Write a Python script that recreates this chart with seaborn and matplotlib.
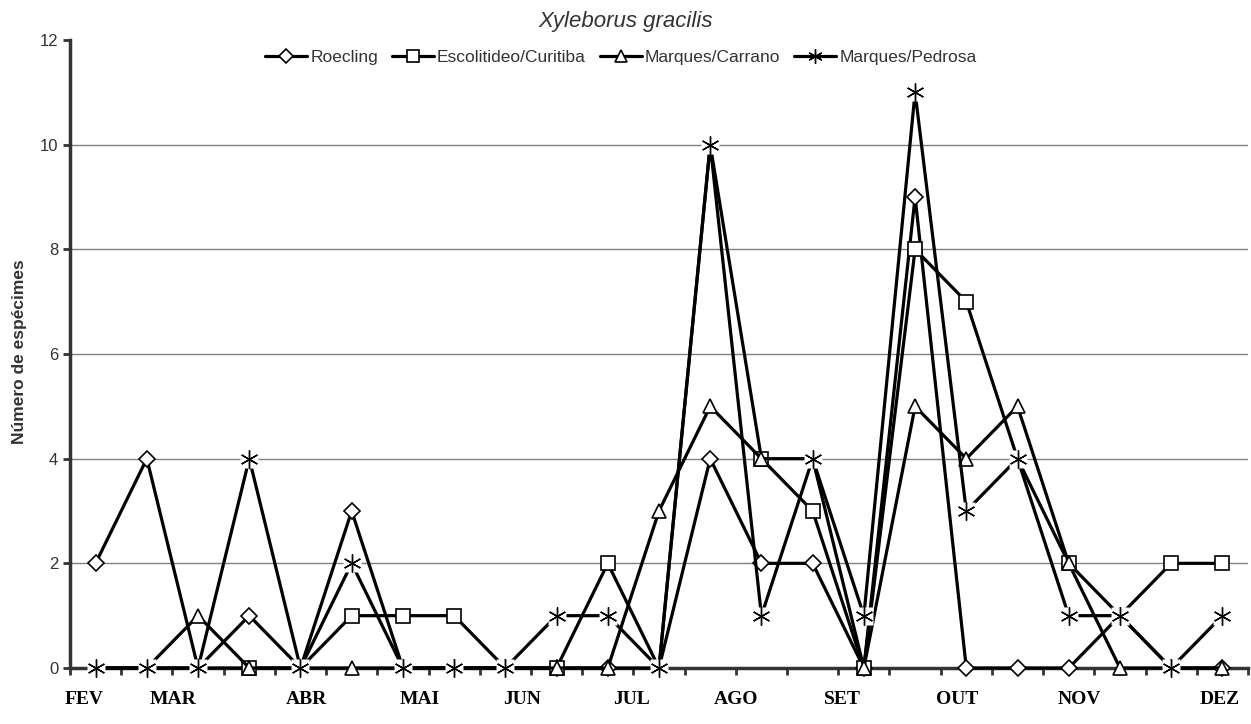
import pandas as pd
import seaborn as sns
import matplotlib.pyplot as plt
from matplotlib.lines import Line2D
import numpy as np

# Data (23 collection points, FEV..DEZ)
points = list(range(23))
roecling = [2, 4, 0, 1, 0, 3, 0, 0, 0, 0, 0, 0, 4, 2, 2, 0, 9, 0, 0, 0, 1, 0, 0]
escolitideo = [0, 0, 0, 0, 0, 1, 1, 1, 0, 0, 2, 0, 10, 4, 3, 0, 8, 7, 4, 2, 1, 2, 2]
carrano = [0, 0, 1, 0, 0, 0, 0, 0, 0, 0, 0, 3, 5, 4, 4, 0, 5, 4, 5, 2, 0, 0, 0]
pedrosa = [0, 0, 0, 4, 0, 2, 0, 0, 0, 1, 1, 0, 10, 1, 4, 1, 11, 3, 4, 1, 1, 0, 1]

series_names = ['Roecling', 'Escolitideo/Curitiba', 'Marques/Carrano', 'Marques/Pedrosa']
months = ['FEV', 'MAR', 'ABR', 'MAI', 'JUN', 'JUL', 'AGO', 'SET', 'OUT', 'NOV', 'DEZ']
month_pos = [-0.23, 1.52, 4.12, 6.33, 8.32, 10.47, 12.5, 14.59, 16.82, 19.2, 21.95]

df = pd.DataFrame({
    'ponto': points * 4,
    'valor': roecling + escolitideo + carrano + pedrosa,
    'serie': np.repeat(series_names, len(points)),
})

sns.set_style('white')
plt.rcParams['font.family'] = ['Liberation Sans', 'DejaVu Sans']

fig = plt.figure(figsize=(12.51, 7.24), dpi=100)
ax = fig.add_axes([70 / 1251, 56 / 724, 1178 / 1251, 628 / 724])

# marker, size, edge width per series
styles = {
    'Roecling': ('D', 8.5, 1.2),
    'Escolitideo/Curitiba': ('s', 10, 1.2),
    'Marques/Carrano': ('^', 10, 1.2),
    'Marques/Pedrosa': ((6, 2, 0), 13, 1.0),
}
handles = []
for i, name in enumerate(series_names):
    mk, ms, mew = styles[name]
    sub = df[df['serie'] == name]
    z = 3 + i
    if name == 'Marques/Pedrosa':
        # line first, then a white box and the asterisk on top (gap like the original)
        sns.lineplot(data=sub, x='ponto', y='valor', color='black', lw=2.3,
                     ax=ax, clip_on=False, zorder=z, legend=False)
        ax.plot(sub['ponto'], sub['valor'], ls='none', marker='s', ms=12.5,
                mfc='white', mec='none', zorder=z + 0.3, clip_on=False)
        ax.plot(sub['ponto'], sub['valor'], ls='none', marker=mk, ms=ms,
                mec='black', mew=mew, zorder=z + 0.6, clip_on=False)
    else:
        sns.lineplot(data=sub, x='ponto', y='valor', color='black', marker=mk, ms=ms,
                     lw=2.3, mfc='white', mec='black', mew=mew,
                     ax=ax, clip_on=False, zorder=z, legend=False)
    handles.append(Line2D([], [], color='black', lw=2.3, marker=mk, ms=ms * 0.8,
                          mfc='white', mec='black', mew=mew))

ax.set_xlim(-0.5, 22.5)
ax.set_ylim(0, 12)
ax.set_xticks(np.arange(-0.5, 23, 1))
ax.set_xticklabels([])
ax.set_yticks(range(0, 13, 2))
ax.tick_params(axis='both', direction='out', length=5, width=2, color='#333333',
               labelsize=12, labelcolor='#333333', left=True, bottom=True)
ax.yaxis.grid(True, color='#808080', lw=1)
ax.get_ygridlines()[-1].set_visible(False)
ax.set_axisbelow(True)
for s in ['top', 'right']:
    ax.spines[s].set_visible(False)
for s in ['left', 'bottom']:
    ax.spines[s].set_color('#333333')
    ax.spines[s].set_linewidth(2.5)
ax.set_xlabel('')
ax.set_ylabel('')

for m, p in zip(months, month_pos):
    ax.text(p, -0.6, m, ha='center', va='center', fontsize=14, fontweight='bold',
            family='Liberation Serif', color='black', clip_on=False)

fig.text(20 / 1251, 1 - 352 / 724, 'Número de espécimes', rotation=90, ha='center',
         va='center', fontsize=12.5, fontweight='bold', color='#333333')
fig.text(626 / 1251, 1 - 22 / 724, 'Xyleborus gracilis', ha='center', va='center',
         fontsize=16, style='italic', color='#333333')

fig.legend(handles, series_names, loc='center', bbox_to_anchor=(621 / 1251, 1 - 57 / 724),
           ncol=4, frameon=False, fontsize=12.5, handlelength=2.4, handletextpad=0.2,
           columnspacing=0.8, labelcolor='#333333')

fig.savefig('out.png', dpi=100)
